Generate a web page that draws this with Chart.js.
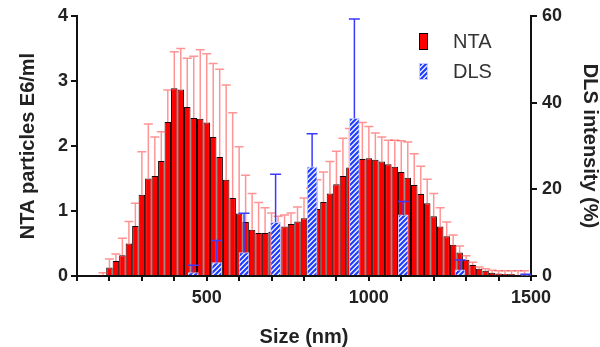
<!DOCTYPE html>
<html>
<head>
<meta charset="utf-8">
<script src="https://cdn.jsdelivr.net/npm/chart.js@4.4.1/dist/chart.umd.min.js"></script>
<style>
  html, body { margin: 0; padding: 0; background: #fff; }
  canvas { display: block; }
</style>
</head>
<body>
<canvas id="graficoTamanos" width="600" height="347"></canvas>
<script>
// NTA: centro de cada intervalo de 20 nm
const ntaTallas = [180, 200, 220, 240, 260, 280, 300, 320, 340, 360, 380, 400, 420, 440, 460, 480,
  500, 520, 540, 560, 580, 600, 620, 640, 660, 680, 700, 720, 740, 760, 780, 800, 820, 840, 860,
  880, 900, 920, 940, 960, 980, 1000, 1020, 1040, 1060, 1080, 1100, 1120, 1140, 1160, 1180, 1200,
  1220, 1240, 1260, 1280, 1300, 1320, 1340, 1360, 1380, 1400, 1420, 1440, 1460, 1480];
// concentración (E6/ml)
const ntaValores = [0.01, 0.13, 0.23, 0.32, 0.50, 0.77, 1.25, 1.50, 1.54, 1.77, 2.37, 2.89, 2.87, 2.60,
  2.43, 2.42, 2.36, 2.14, 1.83, 1.48, 1.20, 0.96, 0.83, 0.71, 0.66, 0.66, 0.68, 0.72, 0.76, 0.80,
  0.84, 0.89, 0.95, 1.03, 1.14, 1.27, 1.41, 1.54, 1.67, 1.77, 1.80, 1.81, 1.79, 1.76, 1.72, 1.68,
  1.60, 1.51, 1.40, 1.26, 1.12, 0.92, 0.76, 0.61, 0.48, 0.36, 0.25, 0.17, 0.11, 0.08, 0.05, 0.04,
  0.03, 0.03, 0.02, 0.02];
// extremo superior de la barra de error (media + DE)
const ntaErrores = [0.05, 0.26, 0.34, 0.58, 0.84, 1.12, 1.91, 2.34, 2.14, 2.22, 2.86, 3.45, 3.50, 3.35,
  3.38, 3.48, 3.42, 3.27, 3.18, 2.94, 2.51, 1.99, 1.55, 1.27, 1.13, 1.05, 0.97, 0.92, 0.94, 0.97,
  1.06, 1.20, 1.35, 1.48, 1.60, 1.76, 1.92, 2.12, 2.27, 2.36, 2.36, 2.30, 2.20, 2.14, 2.09, 2.09,
  2.08, 2.06, 1.88, 1.69, 1.49, 1.27, 1.05, 0.83, 0.63, 0.46, 0.31, 0.21, 0.14, 0.11, 0.09, 0.08,
  0.08, 0.08, 0.08, 0.08];
const ntaAnchoIntervalo = 20;

// DLS: tamaños del equipo (nm), intensidad (%) y extremo del error
const dlsTallas = [458.7, 531.2, 615.1, 712.4, 825.0, 955.4, 1106, 1281, 1484];
const dlsValores = [0.8, 3.1, 5.4, 12.4, 25.2, 36.4, 14.1, 1.4, 0.2];
const dlsErrores = [2.5, 8.2, 14.5, 23.5, 32.8, 59.3, 17.2, 3.7, 0.4];

// Ejes
const ejeXMin = 100;
const ejeXMax = 1500;
const ejeXTicks = [500, 1000, 1500];
const fuente = 'Liberation Sans, Arial, sans-serif';

const canvas = document.getElementById('graficoTamanos');
const ctx = canvas.getContext('2d');

// Relleno rayado azul para las barras DLS
function crearRayado() {
  const c = document.createElement('canvas');
  c.width = 5; c.height = 5;
  const g = c.getContext('2d');
  g.fillStyle = '#f2f4ff';
  g.fillRect(0, 0, 5, 5);
  g.strokeStyle = '#1e3cff';
  g.lineWidth = 2.2;
  g.beginPath();
  g.moveTo(-1, 6); g.lineTo(6, -1);
  g.moveTo(-3.5, 3.5); g.lineTo(3.5, -3.5);
  g.moveTo(1.5, 8.5); g.lineTo(8.5, 1.5);
  g.stroke();
  return ctx.createPattern(c, 'repeat');
}
const rayado = crearRayado();

// Barras de error (solo hacia arriba, con tope)
const barrasError = {
  id: 'barrasError',
  afterDatasetDraw(chart, args) {
    const ds = chart.data.datasets[args.index];
    if (!ds.errores) return;
    const escalaY = chart.scales[ds.yAxisID];
    const c = chart.ctx;
    c.save();
    c.strokeStyle = ds.colorError;
    c.lineWidth = ds.grosorError;
    args.meta.data.forEach((barra, i) => {
      const yErr = escalaY.getPixelForValue(ds.errores[i]);
      const mitad = ds.anchoTope / 2;
      c.beginPath();
      c.moveTo(barra.x, barra.y);
      c.lineTo(barra.x, yErr);
      c.moveTo(barra.x - mitad, yErr);
      c.lineTo(barra.x + mitad, yErr);
      c.stroke();
    });
    c.restore();
  }
};

// Leyenda dentro del área del gráfico
const leyenda = {
  id: 'leyenda',
  afterDraw(chart) {
    const c = chart.ctx;
    const area = chart.chartArea;
    const x = area.right - 112;
    const items = [
      { texto: 'NTA', relleno: '#ff0000', borde: '#000', y: area.top + 17 },
      { texto: 'DLS', relleno: rayado, borde: '#c8ccff', y: area.top + 47 }
    ];
    c.save();
    c.font = '20px ' + fuente;
    c.textBaseline = 'middle';
    items.forEach(it => {
      c.fillStyle = it.relleno;
      c.fillRect(x, it.y, 9, 17);
      c.strokeStyle = it.borde;
      c.lineWidth = 1;
      c.strokeRect(x + 0.5, it.y + 0.5, 8, 16);
      c.fillStyle = '#333';
      c.fillText(it.texto, x + 34, it.y + 9);
    });
    c.restore();
  }
};

// Ancho en píxeles de un intervalo NTA según la escala x
function anchoNTA(context) {
  const esc = context.chart.scales.x;
  if (!esc || !esc.width) return 6;
  return Math.abs(esc.getPixelForValue(ejeXMin + ntaAnchoIntervalo) - esc.getPixelForValue(ejeXMin));
}

const ejeComun = {
  border: { color: '#111', width: 2 },
  grid: { drawOnChartArea: false, color: '#111', lineWidth: 2, tickLength: 6 }
};

new Chart(ctx, {
  type: 'bar',
  data: {
    datasets: [
      {
        label: 'NTA',
        data: ntaTallas.map((t, i) => ({ x: t, y: ntaValores[i] })),
        errores: ntaErrores,
        colorError: 'rgba(255, 60, 60, 0.55)',
        grosorError: 1.5,
        anchoTope: 9,
        backgroundColor: '#ff0000',
        borderColor: '#1a0000',
        borderWidth: 1,
        barThickness: anchoNTA,
        inflateAmount: 0,
        grouped: false,
        yAxisID: 'y',
        order: 1
      },
      {
        label: 'DLS',
        data: dlsTallas.map((t, i) => ({ x: t, y: dlsValores[i] })),
        errores: dlsErrores,
        colorError: '#3a3aff',
        grosorError: 1.5,
        anchoTope: 11,
        backgroundColor: rayado,
        borderColor: '#c8ccff',
        borderWidth: 1,
        barThickness: 10,
        grouped: false,
        yAxisID: 'y2',
        order: 0
      }
    ]
  },
  options: {
    responsive: false,
    animation: false,
    devicePixelRatio: 1,
    layout: { padding: { top: 16, left: 0, right: 0, bottom: 0 } },
    plugins: {
      legend: { display: false },
      tooltip: { enabled: false }
    },
    scales: {
      x: {
        type: 'linear',
        position: 'bottom',
        min: ejeXMin,
        max: ejeXMax,
        offset: false,
        border: ejeComun.border,
        grid: { ...ejeComun.grid, offset: false, tickLength: 5 },
        ticks: {
          stepSize: 100,
          autoSkip: false,
          maxRotation: 0,
          padding: 6,
          color: '#222',
          font: { family: fuente, size: 18, weight: 'bold' },
          callback: v => ejeXTicks.includes(v) ? String(v) : ''
        },
        title: {
          display: true,
          text: 'Size (nm)',
          color: '#222',
          padding: { top: 0, bottom: 0 },
          font: { family: fuente, size: 20, weight: 'bold', lineHeight: 1 }
        },
        afterFit: s => { s.height = 71; }
      },
      y: {
        position: 'left',
        min: 0,
        max: 4,
        border: ejeComun.border,
        grid: ejeComun.grid,
        ticks: {
          stepSize: 1,
          padding: 3,
          color: '#222',
          font: { family: fuente, size: 18, weight: 'bold' }
        },
        title: {
          display: true,
          text: 'NTA particles E6/ml',
          color: '#222',
          padding: { top: 18, bottom: 0 },
          font: { family: fuente, size: 20, weight: 'bold', lineHeight: 1 }
        },
        afterFit: s => { s.width = 77; }
      },
      y2: {
        position: 'right',
        min: 0,
        max: 60,
        border: ejeComun.border,
        grid: ejeComun.grid,
        ticks: {
          stepSize: 20,
          padding: 5,
          color: '#222',
          font: { family: fuente, size: 18, weight: 'bold' }
        },
        title: {
          display: true,
          text: 'DLS intensity (%)',
          color: '#222',
          padding: { top: 0, bottom: 0 },
          font: { family: fuente, size: 20, weight: 'bold', lineHeight: 1 }
        },
        afterFit: s => { s.width = 69; }
      }
    }
  },
  plugins: [barrasError, leyenda]
});
</script>
</body>
</html>
